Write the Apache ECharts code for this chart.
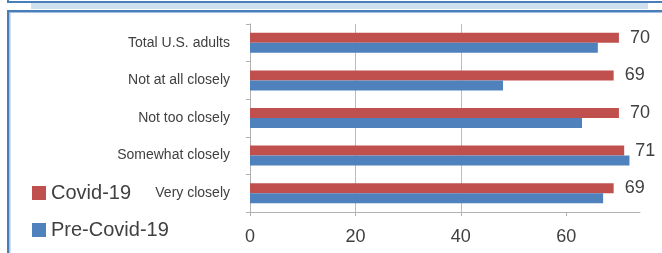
<!DOCTYPE html>
<html>
<head>
<meta charset="utf-8">
<script src="https://cdn.jsdelivr.net/npm/echarts@6/dist/echarts.min.js"></script>
<style>
  html, body { margin: 0; padding: 0; background: #fff; }
  #main { width: 662px; height: 253px; }
</style>
</head>
<body>
<div id="main"></div>
<script>
  // data, top to bottom
  var categories = ['Total U.S. adults', 'Not at all closely', 'Not too closely', 'Somewhat closely', 'Very closely'];
  var covidValues = [70, 69, 70, 71, 69];
  var preCovidValues = [66, 48, 63, 72, 67];
  var xTicks = [0, 20, 40, 60];

  var red = '#c0504d';
  var blue = '#4f81bd';
  var frameBlue = '#4a7ebb';

  var myChart = echarts.init(document.getElementById('main'));

  var option = {
    backgroundColor: '#fff',
    animation: false,
    color: [red, blue],
    legend: {
      orient: 'vertical',
      left: 27,
      top: 178,
      itemWidth: 14,
      itemHeight: 14,
      itemGap: 17,
      icon: 'rect',
      textStyle: {
        fontFamily: 'Liberation Sans, Arial, sans-serif',
        fontSize: 20,
        color: '#404040'
      },
      data: ['Covid-19', 'Pre-Covid-19']
    },
    grid: {
      left: 250,
      right: 22,
      top: 24,
      bottom: 41
    },
    xAxis: {
      type: 'value',
      min: 0,
      max: 74,
      interval: 20,
      axisLine: { show: true, lineStyle: { color: '#b0b0b0', width: 1 } },
      axisTick: { show: true, length: 4, customValues: xTicks, lineStyle: { color: '#b0b0b0' } },
      splitLine: { show: true, showMaxLine: false, lineStyle: { color: '#bdbdbd', width: 1 } },
      axisLabel: {
        customValues: xTicks,
        margin: 16,
        fontFamily: 'Liberation Sans, Arial, sans-serif',
        fontSize: 18,
        color: '#404040'
      }
    },
    yAxis: {
      type: 'category',
      inverse: true,
      data: categories,
      axisLine: { show: true, lineStyle: { color: '#b0b0b0', width: 1 } },
      axisTick: { show: true, length: 4, lineStyle: { color: '#b0b0b0' } },
      axisLabel: {
        margin: 20,
        fontFamily: 'Liberation Sans, Arial, sans-serif',
        fontSize: 14,
        color: '#404040'
      }
    },
    series: [
      {
        name: 'Covid-19',
        type: 'bar',
        barWidth: 10,
        barGap: '0%',
        data: covidValues,
        label: {
          show: true,
          position: 'right',
          distance: 11,
          fontFamily: 'Liberation Sans, Arial, sans-serif',
          fontSize: 18,
          color: '#404040'
        }
      },
      {
        name: 'Pre-Covid-19',
        type: 'bar',
        barWidth: 10,
        barGap: '0%',
        data: preCovidValues
      }
    ],
    // the slide frame around the chart
    graphic: [
      { type: 'rect', shape: { x: 7, y: 1, width: 655, height: 2 }, style: { fill: frameBlue } },
      { type: 'rect', shape: { x: 7, y: 0, width: 2, height: 3 }, style: { fill: frameBlue } },
      { type: 'rect', shape: { x: 31, y: 3, width: 617, height: 6 }, style: { fill: '#cfe0ee' } },
      { type: 'rect', shape: { x: 7, y: 10, width: 655, height: 2.5 }, style: { fill: frameBlue } },
      { type: 'rect', shape: { x: 7, y: 10, width: 2.5, height: 243 }, style: { fill: frameBlue } },
      { type: 'rect', shape: { x: 9.5, y: 12.5, width: 1, height: 240 }, style: { fill: '#a9c4e2' } }
    ]
  };

  myChart.setOption(option);
</script>
</body>
</html>
